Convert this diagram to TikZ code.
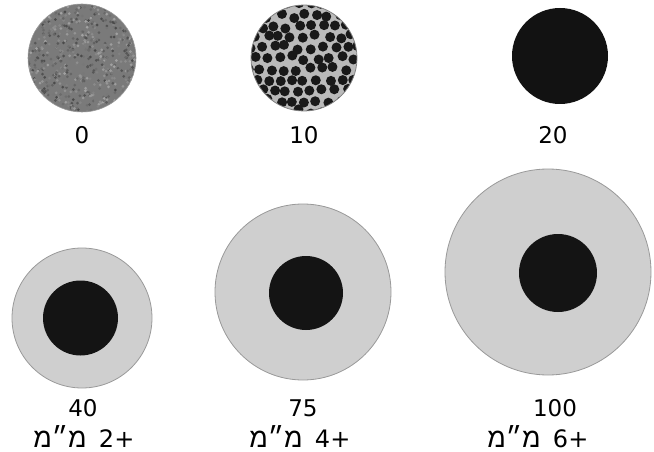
\documentclass[tikz,border=0pt]{standalone}
\usepackage{fontspec}
\setmainfont{DejaVu Sans}
\newfontfamily\hebfont[Script=Hebrew]{Liberation Sans}
\TeXXeTstate=1
\newcommand{\heblabel}[1]{\beginR +\kern0.5pt #1\hspace{12pt}{\hebfont\fontsize{27}{30}\selectfont מ״מ}\endR}
\begin{document}
\begin{tikzpicture}[x=1pt,y=-1pt,
  lbl/.style={inner sep=0pt, font=\fontsize{23}{26}\selectfont, anchor=base},
  hlbl/.style={inner sep=0pt, font=\fontsize{24}{27}\selectfont, anchor=base},
  disc/.style={fill=black!19, draw=black!40, line width=0.8pt},
  core/.style={fill=black!92}]
\useasboundingbox (0,0) rectangle (654,452);
\pgfmathsetseed{12}
% --- 0: mottled grey disc
\begin{scope}
  \clip (82,58) circle (54);
  \fill[black!52] (82,58) circle (54);
  \foreach \i in {1,...,700}{
    \pgfmathsetmacro\px{82+55*rand}
    \pgfmathsetmacro\py{58+55*rand}
    \pgfmathtruncatemacro\g{36+36*rnd}
    \fill[black!\g] (\px,\py) circle (1.5);
  }
\end{scope}
\draw[black!40, line width=0.6pt] (82,58) circle (54);
% --- 10: dotted disc
\begin{scope}
  \clip (304,58) circle (53);
  \fill[black!27] (304,58) circle (53);
  \foreach \i in {-5,...,5}{
    \foreach \j in {-6,...,6}{
      \pgfmathsetmacro\px{304+12.2*\i+6.1*mod(\j+10,2)+2.6*rand}
      \pgfmathsetmacro\py{58+10.6*\j+2.6*rand}
      \fill[black!90] (\px,\py) circle (5.0);
    }
  }
\end{scope}
\draw[black!50, line width=0.8pt] (304,58) circle (53);
% --- 20: solid disc
\fill[black!93] (560,56) circle (48);
% --- 40, 75, 100
\fill[disc] (82,318) circle (70);
\fill[core] (80.5,318) circle (37.5);
\fill[disc] (303,292) circle (88);
\fill[core] (306,293) circle (37);
\fill[disc] (548,272) circle (103);
\fill[core] (558,273) circle (39);
% --- labels
\node[lbl] (l0)   at (82,143)  {0};
\node[lbl] (l10)  at (304,143) {10};
\node[lbl] (l20)  at (553,143) {20};
\node[lbl] (l40)  at (83,416)  {40};
\node[lbl] (l75)  at (303,416) {75};
\node[lbl] (l100) at (555,416) {100};
\node[hlbl] (h2) at (84,447)  {\heblabel{2}};
\node[hlbl] (h4) at (300,447) {\heblabel{4}};
\node[hlbl] (h6) at (538,447) {\heblabel{6}};
\end{tikzpicture}
\end{document}
